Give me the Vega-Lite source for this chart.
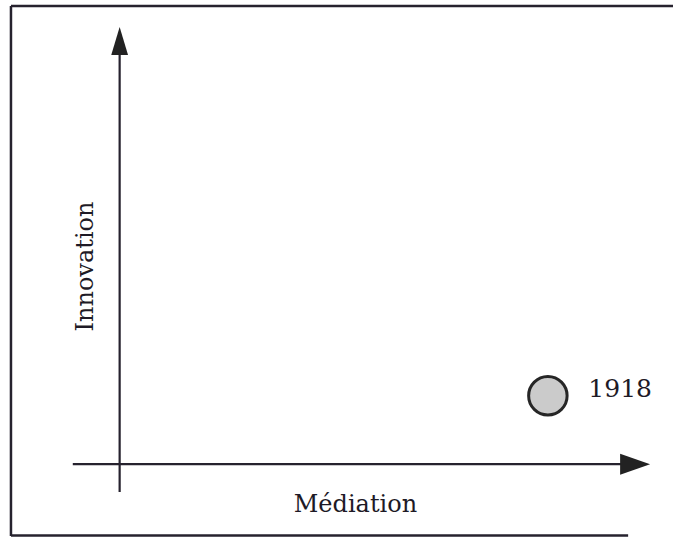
{
  "$schema": "https://vega.github.io/schema/vega-lite/v6.json",
  "width": 675,
  "height": 538,
  "autosize": {"type": "fit", "contains": "padding"},
  "padding": 0,
  "background": "white",
  "config": {"view": {"stroke": null}},
  "datasets": {
    "frame": [
      {"part": "top", "x": -109, "x2": 555, "y": 459, "y2": 459},
      {"part": "left", "x": -109, "x2": -109, "y": 459, "y2": -72},
      {"part": "bottom", "x": -109, "x2": 510, "y": -71.5, "y2": -71.5}
    ],
    "axes": [
      {"axis": "Innovation", "x": 0, "x2": 0, "y": -28, "y2": 412},
      {"axis": "Médiation", "x": -47, "x2": 504, "y": 0, "y2": 0}
    ],
    "arrows": [
      {"axis": "Innovation", "x": 0, "y": 424},
      {"axis": "Médiation", "x": 517, "y": 0}
    ],
    "points": [
      {"year": "1918", "mediation": 429.5, "innovation": 68.5}
    ],
    "labels": [
      {"label": "Médiation", "x": 236.5, "y": -48}
    ],
    "vlabels": [
      {"label": "Innovation", "x": -27, "y": 198}
    ]
  },
  "layer": [
    {
      "data": {"name": "frame"},
      "mark": {"type": "rule", "stroke": "#26222e", "strokeWidth": 2.5},
      "encoding": {
        "x": {"field": "x", "type": "quantitative", "axis": null, "scale": {"domain": [-120, 555], "nice": false, "zero": false}},
        "x2": {"field": "x2"},
        "y": {"field": "y", "type": "quantitative", "axis": null, "scale": {"domain": [-73, 465], "nice": false, "zero": false}},
        "y2": {"field": "y2"}
      }
    },
    {
      "data": {"name": "axes"},
      "mark": {"type": "rule", "stroke": "#26222e", "strokeWidth": 2.2},
      "encoding": {
        "x": {"field": "x", "type": "quantitative", "axis": null},
        "x2": {"field": "x2"},
        "y": {"field": "y", "type": "quantitative", "axis": null},
        "y2": {"field": "y2"}
      }
    },
    {
      "data": {"name": "arrows"},
      "mark": {"type": "point", "filled": true, "color": "#222222", "opacity": 1},
      "encoding": {
        "x": {"field": "x", "type": "quantitative", "axis": null},
        "y": {"field": "y", "type": "quantitative", "axis": null},
        "shape": {
          "field": "axis", "type": "nominal", "legend": null,
          "scale": {"domain": ["Innovation", "Médiation"], "range": ["M0,-1L0.6,1L-0.6,1Z", "M1,0L-1,-0.7L-1,0.7Z"]}
        },
        "size": {
          "field": "axis", "type": "nominal", "legend": null,
          "scale": {"domain": ["Innovation", "Médiation"], "range": [784, 900]}
        }
      }
    },
    {
      "data": {"name": "points"},
      "mark": {"type": "point", "shape": "circle", "filled": true, "fill": "#cbcbcb", "stroke": "#262626", "strokeWidth": 3, "opacity": 1, "size": 1480},
      "encoding": {
        "x": {"field": "mediation", "type": "quantitative", "axis": null},
        "y": {"field": "innovation", "type": "quantitative", "axis": null}
      }
    },
    {
      "data": {"name": "points"},
      "mark": {"type": "text", "align": "left", "baseline": "alphabetic", "dx": 40.5, "dy": 1.5, "font": "DejaVu Serif", "fontSize": 25, "fill": "#1e1a26"},
      "encoding": {
        "x": {"field": "mediation", "type": "quantitative", "axis": null},
        "y": {"field": "innovation", "type": "quantitative", "axis": null},
        "text": {"field": "year"}
      }
    },
    {
      "data": {"name": "labels"},
      "mark": {"type": "text", "align": "center", "baseline": "alphabetic", "font": "DejaVu Serif", "fontSize": 24, "fill": "#1e1a26"},
      "encoding": {
        "x": {"field": "x", "type": "quantitative", "axis": null},
        "y": {"field": "y", "type": "quantitative", "axis": null},
        "text": {"field": "label"}
      }
    },
    {
      "data": {"name": "vlabels"},
      "mark": {"type": "text", "align": "center", "baseline": "alphabetic", "angle": 270, "font": "DejaVu Serif", "fontSize": 24, "fill": "#1e1a26"},
      "encoding": {
        "x": {"field": "x", "type": "quantitative", "axis": null},
        "y": {"field": "y", "type": "quantitative", "axis": null},
        "text": {"field": "label"}
      }
    }
  ]
}
